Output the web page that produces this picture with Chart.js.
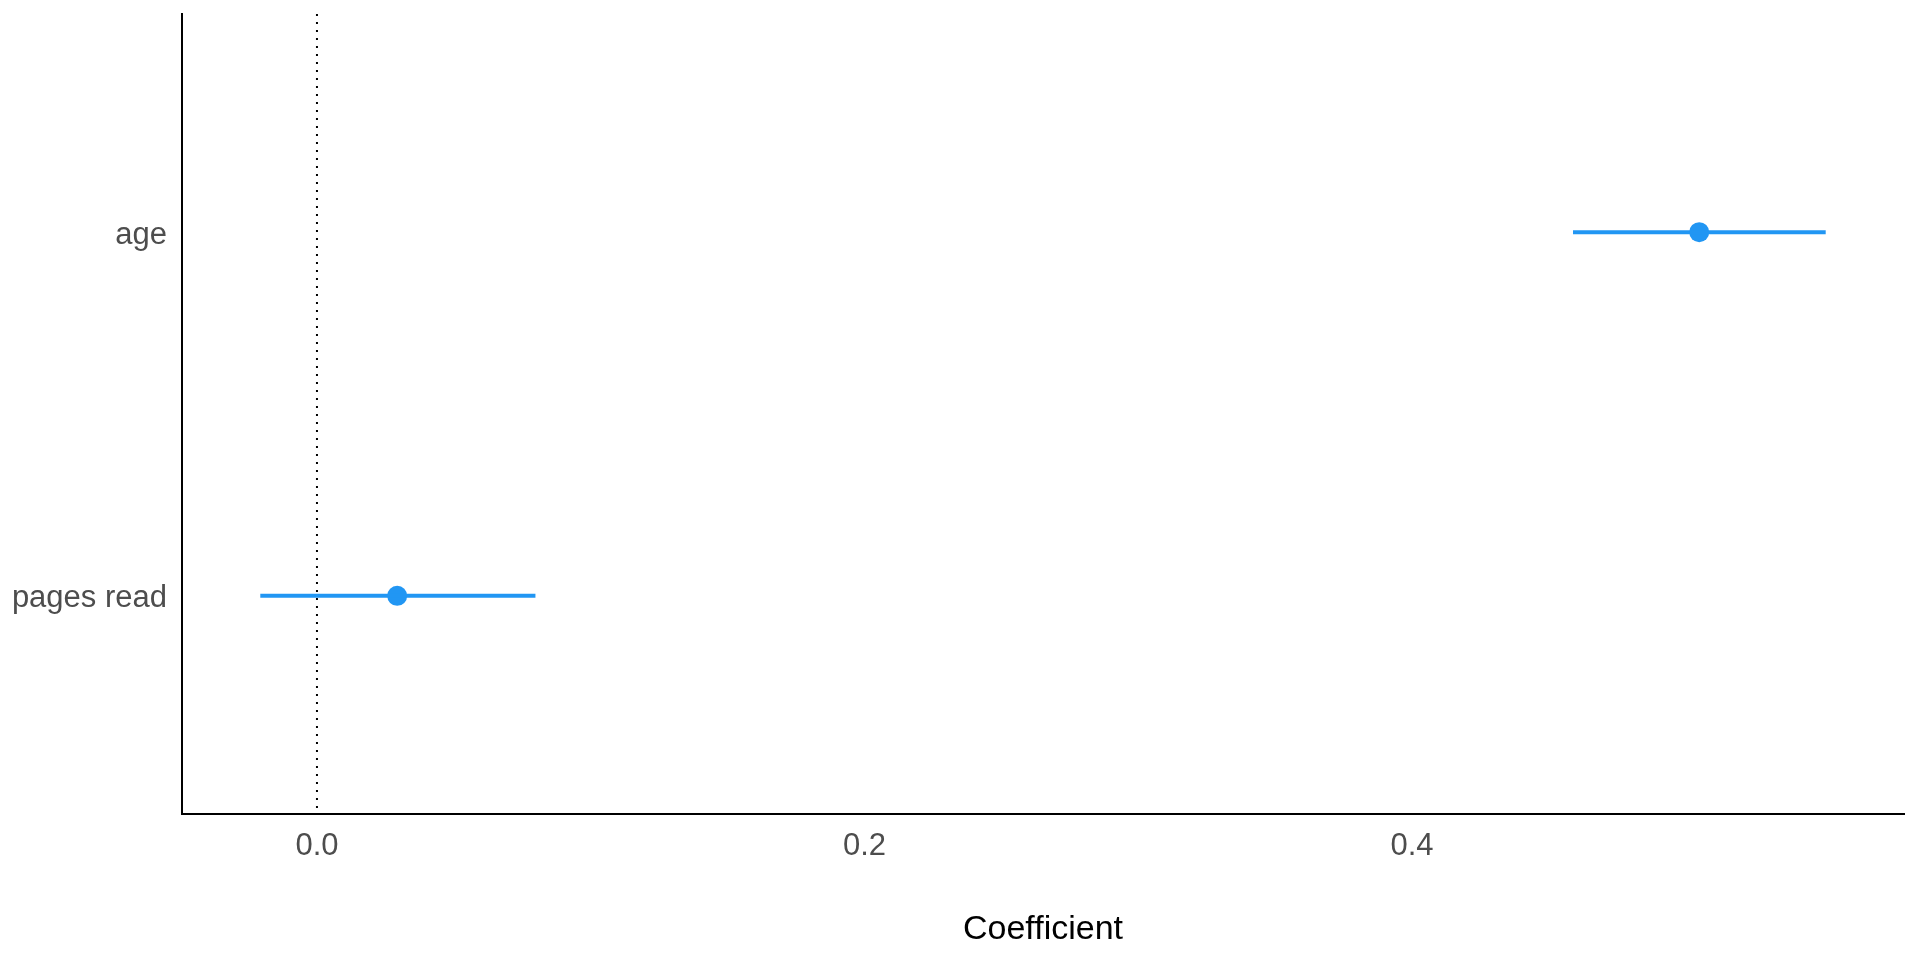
<!DOCTYPE html>
<html>
<head>
<meta charset="utf-8">
<script src="https://cdn.jsdelivr.net/npm/chart.js@4/dist/chart.umd.min.js"></script>
<style>
html,body{margin:0;padding:0;background:#fff;}
#wrap{width:1920px;height:960px;}
</style>
</head>
<body>
<div id="wrap"><canvas id="c" width="1920" height="960"></canvas></div>
<script>
// Data
const terms = ["pages read", "age"];          // y positions 1, 2
const estimates = [0.0293, 0.5049];
const lowerCI = [-0.0207, 0.4588];
const upperCI = [0.0798, 0.5511];
const xTicks = [0.0, 0.2, 0.4];
const refLineX = 0;

const blue = "#2196F3";
const datasets = [];

// reference dotted line at 0 (drawn top to bottom)
datasets.push({
  type: 'line',
  data: [{x: refLineX, y: 2.6}, {x: refLineX, y: 0.4}],
  borderColor: '#000',
  borderWidth: 2,
  borderDash: [2, 6],
  pointRadius: 0,
  fill: false
});
// error bars
terms.forEach((t, i) => {
  datasets.push({
    type: 'line',
    data: [{x: lowerCI[i], y: i + 1}, {x: upperCI[i], y: i + 1}],
    borderColor: blue,
    borderWidth: 4,
    pointRadius: 0,
    fill: false
  });
});
// point estimates
datasets.push({
  type: 'scatter',
  data: terms.map((t, i) => ({x: estimates[i], y: i + 1})),
  backgroundColor: blue,
  borderWidth: 0,
  pointRadius: 10,
  pointHoverRadius: 10
});

new Chart(document.getElementById('c'), {
  type: 'scatter',
  data: {datasets},
  options: {
    responsive: false,
    animation: false,
    events: [],
    layout: {padding: {top: 14, right: 16, left: 0, bottom: 0}},
    plugins: {legend: {display: false}, tooltip: {enabled: false}},
    scales: {
      x: {
        type: 'linear',
        min: -0.0493,
        max: 0.5797,
        afterBuildTicks: (s) => { s.ticks = xTicks.map(v => ({value: v})); },
        afterFit: (s) => { s.height = 146; s.paddingLeft = 0; s.paddingRight = 0; },
        grid: {display: false, drawTicks: false},
        border: {display: true, color: '#000', width: 2},
        ticks: {
          padding: 14,
          color: '#4D4D4D',
          font: {family: 'Liberation Sans', size: 31},
          callback: (v) => Number(v).toFixed(1)
        },
        title: {
          display: true,
          text: 'Coefficient',
          color: '#000',
          font: {family: 'Liberation Sans', size: 34},
          padding: {top: 0, bottom: 10}
        }
      },
      y: {
        type: 'linear',
        min: 0.4,
        max: 2.6,
        afterBuildTicks: (s) => { s.ticks = terms.map((t, i) => ({value: i + 1})); },
        afterFit: (s) => { s.width = 182; s.paddingTop = 0; s.paddingBottom = 0; },
        grid: {display: false, drawTicks: false},
        border: {display: true, color: '#000', width: 2},
        ticks: {
          padding: 15,
          labelOffset: 3,
          color: '#4D4D4D',
          font: {family: 'Liberation Sans', size: 31},
          callback: (v) => terms[Math.round(v) - 1]
        }
      }
    }
  }
});
</script>
</body>
</html>
